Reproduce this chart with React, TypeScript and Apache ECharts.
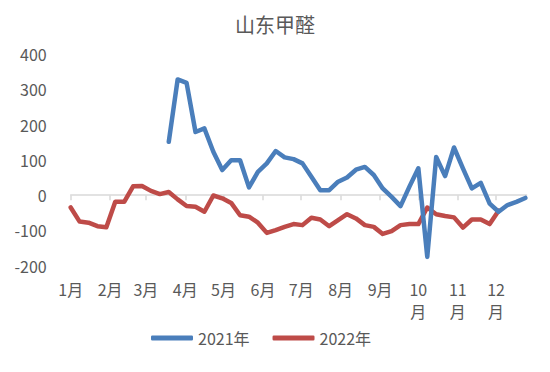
import React, { useEffect, useRef } from "react";
import * as echarts from "echarts";

const titleText = "山东甲醛";
const seriesNames = ["2021年", "2022年"];

const weekDates = [
  "2021-01-01", "2021-01-08", "2021-01-15", "2021-01-22", "2021-01-29",
  "2021-02-05", "2021-02-12", "2021-02-19", "2021-02-26",
  "2021-03-05", "2021-03-12", "2021-03-19", "2021-03-26",
  "2021-04-02", "2021-04-09", "2021-04-16", "2021-04-23", "2021-04-30",
  "2021-05-07", "2021-05-14", "2021-05-21", "2021-05-28",
  "2021-06-04", "2021-06-11", "2021-06-18", "2021-06-25",
  "2021-07-02", "2021-07-09", "2021-07-16", "2021-07-23", "2021-07-30",
  "2021-08-06", "2021-08-13", "2021-08-20", "2021-08-27",
  "2021-09-03", "2021-09-10", "2021-09-17", "2021-09-24",
  "2021-10-01", "2021-10-08", "2021-10-15", "2021-10-22", "2021-10-29",
  "2021-11-05", "2021-11-12", "2021-11-19", "2021-11-26",
  "2021-12-03", "2021-12-10", "2021-12-17", "2021-12-24",
];

const values2021: (number | null)[] = [
  null, null, null, null, null, null, null, null, null, null, null,
  151, 328, 318, 179, 189, 123, 71, 99, 99, 22,
  66, 90, 125, 107, 102, 90, 52, 14, 14, 38,
  50, 72, 80, 57, 19, -5, -31, 24, 76, -175,
  108, 54, 135, 76, 19, 35, -24, -47, -28, -19, -8,
];

const values2022: (number | null)[] = [
  -35, -75, -78, -88, -91, -19, -19, 25, 26, 12,
  3, 9, -12, -31, -33, -47, -1, -9, -22, -57,
  -61, -78, -107, -99, -90, -82, -85, -64, -69, -88,
  -71, -54, -66, -85, -90, -110, -102, -85, -82, -82,
  -35, -54, -59, -63, -92, -69, -69, -82, -44,
  null, null, null,
];

const monthStarts = [
  "2021-01-01", "2021-02-01", "2021-03-01", "2021-04-01", "2021-05-01", "2021-06-01",
  "2021-07-01", "2021-08-01", "2021-09-01", "2021-10-01", "2021-11-01", "2021-12-01",
];
const monthLabels = [
  "1月", "2月", "3月", "4月", "5月", "6月", "7月", "8月", "9月", "10\n月", "11\n月", "12\n月",
];

const xMin = "2021-01-01";
const xMax = "2021-12-25";

const yMin = -200;
const yMax = 400;
const yInterval = 100;

// convert a date string to its day offset from xMin (the axis runs in days)
const toDay = (s: string) => {
  const [y, m, d] = s.split("-").map(Number);
  const [y0, m0, d0] = xMin.split("-").map(Number);
  return Math.round((Date.UTC(y, m - 1, d) - Date.UTC(y0, m0 - 1, d0)) / 86400000);
};

export default function App() {
  const ref = useRef<HTMLDivElement>(null);

  useEffect(() => {
    if (!ref.current) return;
    const chart = echarts.init(ref.current, undefined, { renderer: "svg" });
    const monthDays = monthStarts.map(toDay);
    const textColor = "#595959";
    const font = "'Noto Sans CJK SC', 'Noto Sans', sans-serif";

    chart.setOption({
      animation: false,
      textStyle: { fontFamily: font },
      title: {
        text: titleText,
        left: "center",
        top: 9,
        textStyle: { fontSize: 20, fontWeight: "normal", color: textColor, fontFamily: font },
      },
      legend: {
        data: seriesNames,
        left: 146,
        top: 325,
        itemWidth: 42,
        itemHeight: 5,
        itemGap: 23,
        icon: "roundRect",
        textStyle: { fontSize: 16, color: textColor, fontFamily: font },
      },
      grid: { left: 70.7, right: 23.4, top: 54, bottom: 106.3, containLabel: false },
      xAxis: [
        {
          type: "value",
          min: toDay(xMin),
          max: toDay(xMax),
          position: "bottom",
          axisLine: { show: false, onZero: false },
          axisTick: { show: false },
          splitLine: { show: false },
          axisLabel: {
            customValues: monthDays,
            formatter: (val: number) => {
              const i = monthDays.indexOf(val);
              return i >= 0 ? monthLabels[i] : "";
            },
            color: textColor,
            fontSize: 16,
            lineHeight: 22,
            margin: 12,
            fontFamily: font,
          },
        },
        {
          type: "value",
          min: toDay(xMin),
          max: toDay(xMax),
          position: "bottom",
          axisLine: { show: true, onZero: true, lineStyle: { color: "#d9d9d9", width: 1.5 } },
          axisTick: { show: true, customValues: monthDays, length: 5, lineStyle: { color: "#d9d9d9", width: 1.5 } },
          axisLabel: { show: false },
          splitLine: { show: false },
        },
      ],
      yAxis: {
        type: "value",
        min: yMin,
        max: yMax,
        interval: yInterval,
        axisLine: { show: false },
        axisTick: { show: false },
        splitLine: { show: false },
        axisLabel: { color: textColor, fontSize: 16, margin: 24, fontFamily: font },
      },
      series: [
        {
          name: seriesNames[0],
          type: "line",
          xAxisIndex: 0,
          data: weekDates.map((d, i) => [toDay(d), values2021[i]]),
          showSymbol: false,
          symbol: "none",
          connectNulls: false,
          itemStyle: { color: "#4a7ebb" },
          lineStyle: { color: "#4a7ebb", width: 4.5, cap: "round", join: "round" },
          z: 3,
        },
        {
          name: seriesNames[1],
          type: "line",
          xAxisIndex: 0,
          data: weekDates.map((d, i) => [toDay(d), values2022[i]]),
          showSymbol: false,
          symbol: "none",
          connectNulls: false,
          itemStyle: { color: "#be4b48" },
          lineStyle: { color: "#be4b48", width: 4.5, cap: "round", join: "round" },
          z: 2,
        },
      ],
    });

    return () => chart.dispose();
  }, []);

  return (
    <div
      ref={ref}
      style={{ position: "fixed", left: 0, top: 0, width: 550, height: 372, background: "#ffffff" }}
    />
  );
}
